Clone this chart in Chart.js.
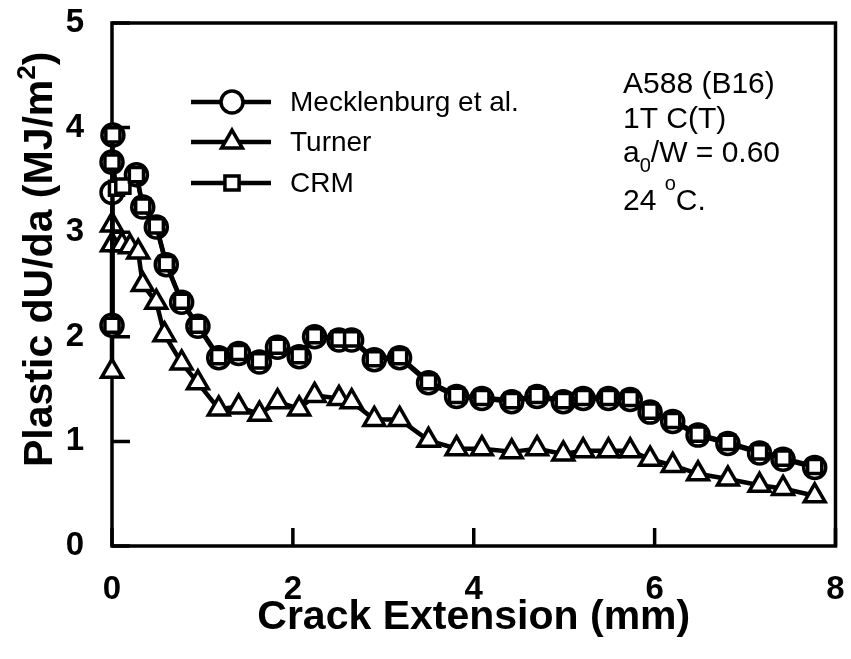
<!DOCTYPE html>
<html>
<head>
<meta charset="utf-8">
<script src="https://cdn.jsdelivr.net/npm/chart.js@4.4.1/dist/chart.umd.min.js"></script>
<style>
  html, body { margin: 0; padding: 0; background: #fff; }
  #wrap { width: 851px; height: 659px; }
</style>
</head>
<body>
<div id="wrap"><canvas id="chart" width="851" height="659"></canvas></div>
<script>
// Chart values
const meckX = [0, 0.01, 0, 0, 0.27, 0.34, 0.49, 0.60, 0.77, 0.95, 1.18, 1.40, 1.63, 1.83, 2.07, 2.24, 2.51, 2.65, 2.90, 3.18, 3.50, 3.81, 4.09, 4.42, 4.70, 4.99, 5.21, 5.49, 5.73, 5.95, 6.20, 6.48, 6.81, 7.16, 7.42, 7.77];
const meckY = [2.11, 3.93, 3.67, 3.38, 3.55, 3.24, 3.05, 2.69, 2.33, 2.10, 1.80, 1.84, 1.76, 1.90, 1.81, 2.00, 1.97, 1.97, 1.78, 1.80, 1.56, 1.43, 1.41, 1.38, 1.43, 1.38, 1.41, 1.41, 1.40, 1.28, 1.19, 1.06, 0.98, 0.89, 0.83, 0.75];

const turnerX = [0, 0, 0, 0.11, 0.20, 0.29, 0.34, 0.49, 0.58, 0.77, 0.95, 1.18, 1.40, 1.63, 1.83, 2.07, 2.24, 2.51, 2.65, 2.90, 3.18, 3.50, 3.81, 4.09, 4.42, 4.70, 4.99, 5.21, 5.49, 5.73, 5.95, 6.20, 6.48, 6.81, 7.16, 7.42, 7.77];
const turnerY = [1.67, 3.07, 2.88, 2.88, 2.86, 2.81, 2.50, 2.33, 2.02, 1.75, 1.56, 1.31, 1.33, 1.26, 1.38, 1.31, 1.44, 1.41, 1.38, 1.21, 1.21, 1.01, 0.93, 0.93, 0.90, 0.93, 0.88, 0.91, 0.91, 0.91, 0.83, 0.77, 0.69, 0.64, 0.58, 0.55, 0.48];

const crmX = [0, 0.01, 0, 0.05, 0.12, 0.27, 0.34, 0.49, 0.60, 0.77, 0.95, 1.18, 1.40, 1.63, 1.83, 2.07, 2.24, 2.51, 2.65, 2.90, 3.18, 3.50, 3.81, 4.09, 4.42, 4.70, 4.99, 5.21, 5.49, 5.73, 5.95, 6.20, 6.48, 6.81, 7.16, 7.42, 7.77];
const crmY = [2.11, 3.93, 3.67, 3.42, 3.44, 3.55, 3.25, 3.06, 2.70, 2.34, 2.11, 1.81, 1.85, 1.77, 1.91, 1.82, 2.01, 1.98, 1.98, 1.79, 1.81, 1.57, 1.44, 1.42, 1.39, 1.44, 1.39, 1.42, 1.42, 1.41, 1.29, 1.20, 1.07, 0.99, 0.90, 0.84, 0.76];

const xTicks = [0, 2, 4, 6, 8];
const yTicks = [0, 1, 2, 3, 4, 5];

const seriesNames = ["Mecklenburg et al.", "Turner", "CRM"];
const infoLines = ["A588 (B16)", "1T C(T)"];

const FONT = "'Liberation Sans', Arial, Helvetica, sans-serif";

// zip x/y arrays into {x, y} points
function toPoints(xs, ys) {
  return xs.map((x, i) => ({ x: x, y: ys[i] }));
}

// small marker drawer for the legend
function drawMarker(ctx, style, x, y) {
  ctx.beginPath();
  if (style === "circle") {
    ctx.arc(x, y, 11, 0, Math.PI * 2);
  } else if (style === "triangle") {
    const r = 12;
    ctx.moveTo(x, y - r);
    ctx.lineTo(x + r * Math.sin(Math.PI / 3), y + r / 2);
    ctx.lineTo(x - r * Math.sin(Math.PI / 3), y + r / 2);
    ctx.closePath();
  } else {
    const s = 10 * Math.SQRT1_2;
    ctx.rect(x - s, y - s, 2 * s, 2 * s);
  }
  ctx.fill();
  ctx.stroke();
}

const framePlugin = {
  id: "frame",
  // frame and inward ticks go under the markers
  beforeDatasetsDraw(chart) {
    const { ctx, chartArea: a, scales } = chart;
    ctx.save();
    ctx.strokeStyle = "#000";
    ctx.lineWidth = 3.5;
    ctx.strokeRect(a.left, a.top, a.right - a.left, a.bottom - a.top);
    ctx.beginPath();
    xTicks.forEach(v => {
      const px = scales.x.getPixelForValue(v);
      ctx.moveTo(px, a.bottom);
      ctx.lineTo(px, a.bottom - 18);
    });
    yTicks.forEach(v => {
      const py = scales.y.getPixelForValue(v);
      ctx.moveTo(a.left, py);
      ctx.lineTo(a.left + 18, py);
    });
    ctx.stroke();
    ctx.restore();
  },
  afterDraw(chart) {
    const ctx = chart.ctx;
    ctx.save();
    ctx.fillStyle = "#000";

    // legend
    const styles = ["circle", "triangle", "rect"];
    const rows = [102, 142, 183];
    ctx.font = "28px " + FONT;
    ctx.textBaseline = "middle";
    ctx.textAlign = "left";
    rows.forEach((ry, i) => {
      ctx.strokeStyle = "#000";
      ctx.lineWidth = 4.5;
      ctx.beginPath();
      ctx.moveTo(191, ry);
      ctx.lineTo(271, ry);
      ctx.stroke();
      ctx.fillStyle = "#fff";
      ctx.lineWidth = 3.5;
      drawMarker(ctx, styles[i], 232, ry);
      ctx.fillStyle = "#000";
      ctx.fillText(seriesNames[i], 290, ry + 1);
    });

    // specimen info
    ctx.textBaseline = "alphabetic";
    ctx.font = "30px " + FONT;
    ctx.fillText(infoLines[0], 623, 93);
    ctx.fillText(infoLines[1], 623, 128);
    let tx = 623;
    ctx.fillText("a", tx, 162);
    tx += ctx.measureText("a").width;
    ctx.font = "20px " + FONT;
    ctx.fillText("0", tx, 172);
    tx += ctx.measureText("0").width;
    ctx.font = "30px " + FONT;
    ctx.fillText("/W = 0.60", tx, 162);
    tx = 623;
    ctx.fillText("24 ", tx, 210);
    tx += ctx.measureText("24 ").width;
    ctx.font = "20px " + FONT;
    ctx.fillText("o", tx, 190);
    tx += ctx.measureText("o").width;
    ctx.font = "30px " + FONT;
    ctx.fillText("C.", tx, 210);

    // y axis title with superscript
    ctx.translate(52, 467);
    ctx.rotate(-Math.PI / 2);
    ctx.font = "bold 41px " + FONT;
    let ty = 0;
    const part1 = "Plastic dU/da (MJ/m";
    ctx.fillText(part1, ty, 0);
    ty += ctx.measureText(part1).width;
    ctx.font = "bold 26px " + FONT;
    ctx.fillText("2", ty, -17);
    ty += ctx.measureText("2").width;
    ctx.font = "bold 41px " + FONT;
    ctx.fillText(")", ty, 0);
    ctx.restore();
  }
};

const ctx = document.getElementById("chart").getContext("2d");

new Chart(ctx, {
  type: "scatter",
  data: {
    datasets: [
      {
        label: seriesNames[2],
        data: toPoints(crmX, crmY),
        order: 0,
        showLine: true,
        borderColor: "#000",
        borderWidth: 4.5,
        pointStyle: "rect",
        pointRadius: 10,
        pointBorderWidth: 3.5,
        pointBackgroundColor: "#fff",
        pointBorderColor: "#000",
        clip: false
      },
      {
        label: seriesNames[0],
        data: toPoints(meckX, meckY),
        order: 1,
        showLine: true,
        borderColor: "#000",
        borderWidth: 4.5,
        pointStyle: "circle",
        pointRadius: 11,
        pointBorderWidth: 3.5,
        pointBackgroundColor: "#fff",
        pointBorderColor: "#000",
        clip: false
      },
      {
        label: seriesNames[1],
        data: toPoints(turnerX, turnerY),
        order: 2,
        showLine: true,
        borderColor: "#000",
        borderWidth: 4.5,
        pointStyle: "triangle",
        pointRadius: 12,
        pointBorderWidth: 3.5,
        pointBackgroundColor: "#fff",
        pointBorderColor: "#000",
        clip: false
      }
    ]
  },
  options: {
    responsive: false,
    animation: false,
    devicePixelRatio: 1,
    layout: { padding: { top: 23, right: 13, left: 0, bottom: 0 } },
    plugins: {
      legend: { display: false },
      tooltip: { enabled: false }
    },
    scales: {
      x: {
        type: "linear",
        min: 0,
        max: 8,
        grid: { display: false },
        border: { display: false },
        afterBuildTicks: scale => { scale.ticks = xTicks.map(v => ({ value: v })); },
        afterFit: scale => {
          scale.height = 113;
          scale.paddingLeft = 0;
          scale.paddingRight = 0;
        },
        ticks: {
          color: "#000",
          padding: 16,
          font: { family: FONT, size: 33, weight: "bold" }
        },
        title: {
          display: true,
          text: "Crack Extension (mm)",
          color: "#000",
          padding: { top: 0, bottom: 17 },
          font: { family: FONT, size: 41, weight: "bold" }
        }
      },
      y: {
        type: "linear",
        min: 0,
        max: 5,
        grid: { display: false },
        border: { display: false },
        afterBuildTicks: scale => { scale.ticks = yTicks.map(v => ({ value: v })); },
        afterFit: scale => {
          scale.width = 112;
          scale.paddingTop = 0;
          scale.paddingBottom = 0;
        },
        ticks: {
          color: "#000",
          padding: 20,
          font: { family: FONT, size: 33, weight: "bold" }
        }
      }
    }
  },
  plugins: [framePlugin]
});
</script>
</body>
</html>
